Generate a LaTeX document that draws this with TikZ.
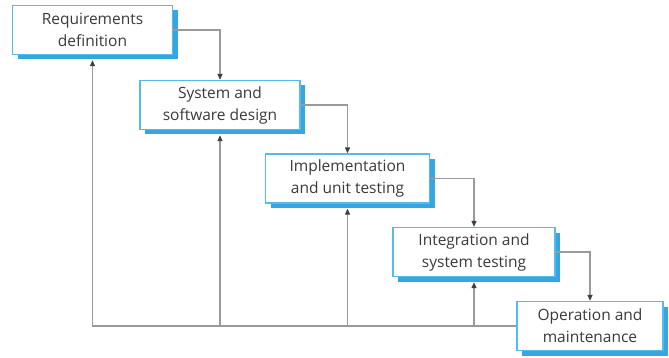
\documentclass[tikz,border=0pt]{standalone}
\usepackage{fontspec}
\setmainfont{Open Sans}
\usetikzlibrary{positioning, shadows, arrows.meta}
\definecolor{boxline}{HTML}{55BCEA}
\definecolor{boxshade}{HTML}{35A6DE}
\definecolor{flowline}{HTML}{9A9A9A}
\definecolor{labeltext}{HTML}{3A3A3A}

\begin{document}
\begin{tikzpicture}[x=1pt,y=-1pt,
    flow/.style={flowline,line width=1.2pt,-{Triangle[length=6pt,width=5pt,color=black!75]}}]
          \useasboundingbox (0,0) rectangle (669,358);
          \begin{scope}[every node/.style={draw=boxline,line width=1.3pt,fill=white,
              minimum height=49pt,align=center,text=labeltext,inner sep=2pt,
              font=\fontsize{15.5}{22}\selectfont,
              drop shadow={shadow xshift=5pt,shadow yshift=-5pt,fill=boxshade,opacity=1}}]
            \node (req) [minimum width=160pt] at (92.5, 30) {Requirements\\definition};
            \node (design) [minimum width=160pt] at (220, 105) {System and\\software design};
            \node (impl) [minimum width=164pt] at (347.5, 178.5) {Implementation\\and unit testing};
            \node (integ) [minimum width=162pt] at (474, 252) {Integration and\\system testing};
            \node (oper) [minimum width=146pt] at (590, 326) {Operation and\\maintenance};
          \end{scope}
          % cascade down
          \draw[flow] (req.east) -| (design.north);
          \draw[flow] (design.east) -| (impl.north);
          \draw[flow] (impl.east) -| (integ.north);
          \draw[flow] (integ.east) -| (oper.north);
          % feedback
          \begin{scope}[flow,shorten >=5pt]
            \draw (oper.west) -| (req.south);
            \draw (design.south |- oper.west) -- (design.south);
            \draw (impl.south |- oper.west) -- (impl.south);
            \draw (integ.south |- oper.west) -- (integ.south);
          \end{scope}
        \end{tikzpicture}
\end{document}
